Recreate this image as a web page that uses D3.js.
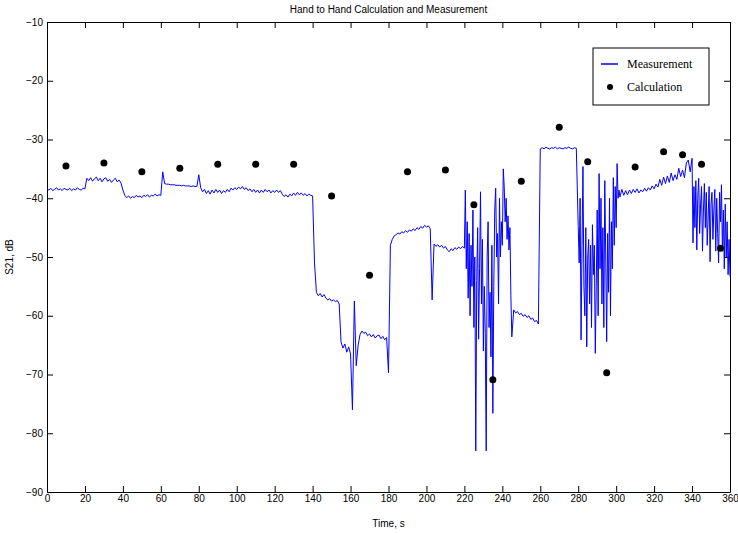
<!DOCTYPE html>
<html>
<head>
<meta charset="utf-8">
<script src="https://cdn.jsdelivr.net/npm/d3@7"></script>
<style>
  body { margin: 0; background: #fff; }
  .axis text { font-family: "Liberation Sans", Arial, sans-serif; font-size: 10px; fill: #000; }
  .axis path, .axis line { stroke: #000; }
</style>
</head>
<body>
<div id="chart"></div>
<script>
const measA = [ // t = 0 .. 219, step 1
  -38.4, -38.6, -38.3, -38.7, -38.5, -38.2, -38.6, -38.4, -38.7, -38.3, // 0
  -38.5, -38.6, -38.3, -38.7, -38.4, -38.6, -38.2, -38.5, -38.6, -38.3, // 10
  -38.4, -36.6, -37.0, -36.5, -37.1, -36.7, -36.4, -37.0, -36.6, -37.2, // 20
  -36.7, -36.5, -37.1, -36.8, -37.3, -36.9, -36.6, -37.2, -36.9, -37.4, // 30
  -38.6, -39.5, -39.9, -39.6, -40.0, -39.7, -39.9, -39.5, -39.8, -39.6, // 40
  -39.9, -39.5, -39.7, -39.4, -39.8, -39.5, -39.6, -39.3, -39.6, -39.4, // 50
  -39.5, -35.5, -37.5, -37.6, -37.6, -37.7, -37.7, -37.7, -37.8, -37.8, // 60
  -37.8, -37.9, -37.8, -37.9, -37.9, -37.9, -38.0, -37.9, -38.0, -38.0, // 70
  -36.0, -38.2, -38.9, -38.5, -39.2, -38.7, -39.3, -38.6, -39.1, -38.5, // 80
  -39.0, -38.6, -39.2, -38.7, -39.0, -38.5, -38.9, -38.3, -38.6, -38.2, // 90
  -38.5, -38.1, -38.4, -38.0, -38.5, -38.2, -38.7, -38.4, -38.9, -38.5, // 100
  -39.0, -38.6, -39.1, -38.6, -39.0, -38.5, -38.9, -38.6, -39.1, -38.7, // 110
  -39.0, -38.6, -39.0, -38.7, -39.3, -39.7, -39.4, -39.8, -39.3, -39.6, // 120
  -39.1, -39.5, -39.0, -39.4, -39.1, -39.5, -39.2, -39.6, -39.3, -39.5, // 130
  -39.6, -51.0, -56.0, -56.6, -56.2, -56.8, -56.4, -57.0, -57.3, -57.1, // 140
  -57.5, -57.3, -57.6, -57.4, -58.0, -64.5, -65.5, -64.8, -66.2, -65.3, // 150
  -66.5, -76.0, -57.5, -68.5, -65.0, -63.2, -62.6, -63.0, -62.8, -63.4, // 160
  -63.1, -63.6, -63.2, -63.8, -63.4, -63.3, -63.9, -63.5, -64.1, -63.7, // 170
  -69.7, -48.0, -47.0, -46.4, -46.2, -45.9, -46.1, -45.7, -45.9, -45.5, // 180
  -45.8, -45.4, -45.6, -45.2, -45.5, -45.0, -45.3, -44.8, -45.1, -44.6, // 190
  -44.9, -44.7, -45.2, -57.3, -47.8, -48.2, -47.9, -48.3, -48.0, -48.5, // 200
  -48.2, -48.8, -49.1, -48.6, -48.9, -48.4, -48.7, -48.3, -48.6, -48.2  // 210
];
const burst1 = [ // t = 220 .. 245, step 0.5
  -48.5, -38.6, -52.0, -44.0, -57.0, -46.0, -60.0, -48.0, -55.0, -42.0, // 220
  -62.0, -50.0, -83.0, -54.0, -45.0, -64.0, -52.0, -38.9, -58.0, -47.0, // 225
  -66.0, -55.0, -63.0, -83.0, -50.0, -44.0, -62.0, -56.0, -67.0, -48.0, // 230
  -76.6, -55.0, -42.0, -38.3, -50.0, -46.0, -58.0, -40.0, -50.0, -44.0, // 235
  -48.0, -35.0, -38.0, -44.0, -40.0, -47.0, -43.0, -48.8, -45.0, -56.5, // 240
  -63.6                                                                 // 245
];
const measB = [ // t = 246 .. 279, step 1
  -59.0, -59.5, -59.3, -59.8, -59.6, -60.1, -59.8, -60.3, -60.0, -60.6, // 246
  -60.4, -61.0, -60.8, -61.4,                                           // 256
  -31.6, -31.4, -31.6, -31.3, -31.5, -31.6, -31.4, -31.5, -31.3, -31.6, // 260
  -31.4, -31.5, -31.6, -31.4, -31.5, -31.3, -31.5, -31.6, -31.4, -31.5  // 270
];
const burst2 = [ // t = 280 .. 302, step 0.5
  -44.8, -51.0, -40.0, -64.1, -48.0, -34.6, -55.0, -60.0, -45.0, -65.3, // 280
  -50.0, -47.0, -58.0, -48.0, -62.0, -44.5, -53.0, -48.0, -66.4, -55.0, // 285
  -42.0, -60.0, -35.8, -52.0, -40.0, -58.0, -45.0, -62.0, -37.0, -50.0, // 290
  -64.4, -46.0, -56.0, -40.0, -60.0, -44.0, -52.0, -36.5, -48.0, -38.0, // 295
  -45.0, -34.1, -40.0, -38.6, -39.8                                     // 300
];
const measC = [ // t = 303 .. 340, step 1
  -38.5, -39.5, -38.7, -39.4, -38.6, -39.2, -38.5,                      // 303
  -39.0, -38.4, -39.1, -38.6, -38.9, -38.3, -38.8, -38.2, -38.6, -37.9, // 310
  -38.4, -37.6, -38.1, -36.8, -37.8, -36.4, -37.5, -36.2, -37.3, -35.7, // 320
  -37.0, -36.0, -36.8, -34.9, -36.3, -35.2, -36.5, -34.0, -33.5, -35.5, // 330
  -33.2                                                                 // 340
];
const burst3 = [ // t = 340.5 .. 360, step 0.5
  -47.6, -38.0, -45.0, -37.0, -48.8, -40.0, -36.6, -46.0, -41.0, -38.0, // 340.5
  -49.0, -42.0, -37.5, -45.0, -39.0, -48.0, -43.0, -38.0, -50.8, -41.0, // 345.5
  -39.0, -47.0, -42.0, -38.5, -49.0, -40.0, -46.0, -51.0, -39.0, -44.0, // 350.5
  -37.7, -49.0, -42.0, -52.0, -41.0, -50.0, -44.0, -53.0, -47.0, -53.3  // 355.5
];
const measSegments = [
  {start: 0,     step: 1,   values: measA},
  {start: 220,   step: 0.5, values: burst1},
  {start: 246,   step: 1,   values: measB},
  {start: 280,   step: 0.5, values: burst2},
  {start: 303,   step: 1,   values: measC},
  {start: 340.5, step: 0.5, values: burst3}
];

// Calculated points
const calcTimes  = [10, 30, 50, 70, 90, 110, 130, 150, 170, 190, 210, 225, 235, 250, 270, 285, 295, 310, 325, 335, 345, 355];
const calcValues = [-34.5, -34.0, -35.5, -34.9, -34.2, -34.2, -34.2, -39.6, -53.1, -35.5, -35.2, -41.1, -70.9, -37.1, -27.9, -33.8, -69.7, -34.7, -32.1, -32.6, -34.2, -48.5];

const xTicks = d3.range(0, 361, 20);
const yTicks = d3.range(-90, -9, 10);

const W = 738, H = 533;
const margin = {top: 22, right: 8, bottom: 41, left: 47};
const width = W - margin.left - margin.right;
const height = H - margin.top - margin.bottom;

const svg = d3.select("#chart").append("svg")
    .attr("width", W)
    .attr("height", H);

const g = svg.append("g")
    .attr("transform", `translate(${margin.left},${margin.top})`);

const x = d3.scaleLinear().domain([0, 360]).range([0, width]);
const y = d3.scaleLinear().domain([-90, -10]).range([height, 0]);

// axes with inward ticks on all four sides
g.append("g").attr("class", "axis")
    .attr("transform", `translate(0,${height})`)
    .call(d3.axisBottom(x).tickValues(xTicks).tickSizeInner(-6).tickSizeOuter(0).tickPadding(3));
g.append("g").attr("class", "axis")
    .call(d3.axisLeft(y).tickValues(yTicks).tickSizeInner(-6).tickSizeOuter(0).tickPadding(4));
g.append("g").attr("class", "axis")
    .call(d3.axisTop(x).tickValues(xTicks).tickSizeInner(-6).tickSizeOuter(0).tickFormat(""));
g.append("g").attr("class", "axis")
    .attr("transform", `translate(${width},0)`)
    .call(d3.axisRight(y).tickValues(yTicks).tickSizeInner(-6).tickSizeOuter(0).tickFormat(""));

// flatten the segments into [t, value] points
const measPoints = measSegments.flatMap(s => s.values.map((v, i) => [s.start + i * s.step, v]));

const line = d3.line()
    .x(d => x(d[0]))
    .y(d => y(d[1]));

g.append("path")
    .datum(measPoints)
    .attr("fill", "none")
    .attr("stroke", "#0000ff")
    .attr("stroke-width", 1)
    .attr("d", line);

// calculation dots
g.append("g")
  .selectAll("circle")
  .data(calcTimes)
  .enter()
  .append("circle")
    .attr("cx", d => x(d))
    .attr("cy", (d, i) => y(calcValues[i]))
    .attr("r", 3.5)
    .attr("fill", "#000");

// title and axis labels
svg.append("text")
    .attr("x", margin.left + width / 2)
    .attr("y", 13)
    .attr("text-anchor", "middle")
    .style("font-family", "Liberation Sans, Arial, sans-serif")
    .style("font-size", "10px")
    .text("Hand to Hand Calculation and Measurement");

svg.append("text")
    .attr("x", margin.left + width / 2)
    .attr("y", 527)
    .attr("text-anchor", "middle")
    .style("font-family", "Liberation Sans, Arial, sans-serif")
    .style("font-size", "10px")
    .text("Time, s");

svg.append("text")
    .attr("transform", `translate(13,${margin.top + height / 2}) rotate(-90)`)
    .attr("text-anchor", "middle")
    .style("font-family", "Liberation Sans, Arial, sans-serif")
    .style("font-size", "10px")
    .text("S21, dB");

// legend
const legend = svg.append("g").attr("transform", "translate(593,48)");
legend.append("rect")
    .attr("width", 116).attr("height", 57)
    .attr("fill", "#fff").attr("stroke", "#000");
legend.append("line")
    .attr("x1", 8).attr("x2", 25).attr("y1", 16).attr("y2", 16)
    .attr("stroke", "#0000ff").attr("stroke-width", 1.5);
legend.append("circle")
    .attr("cx", 17).attr("cy", 39).attr("r", 3).attr("fill", "#000");
legend.selectAll("text")
    .data(["Measurement", "Calculation"])
    .enter()
    .append("text")
    .attr("x", 34)
    .attr("y", (d, i) => 20 + i * 23)
    .style("font-family", "Liberation Serif, Times New Roman, serif")
    .style("font-size", "12px")
    .text(d => d);
</script>
</body>
</html>
